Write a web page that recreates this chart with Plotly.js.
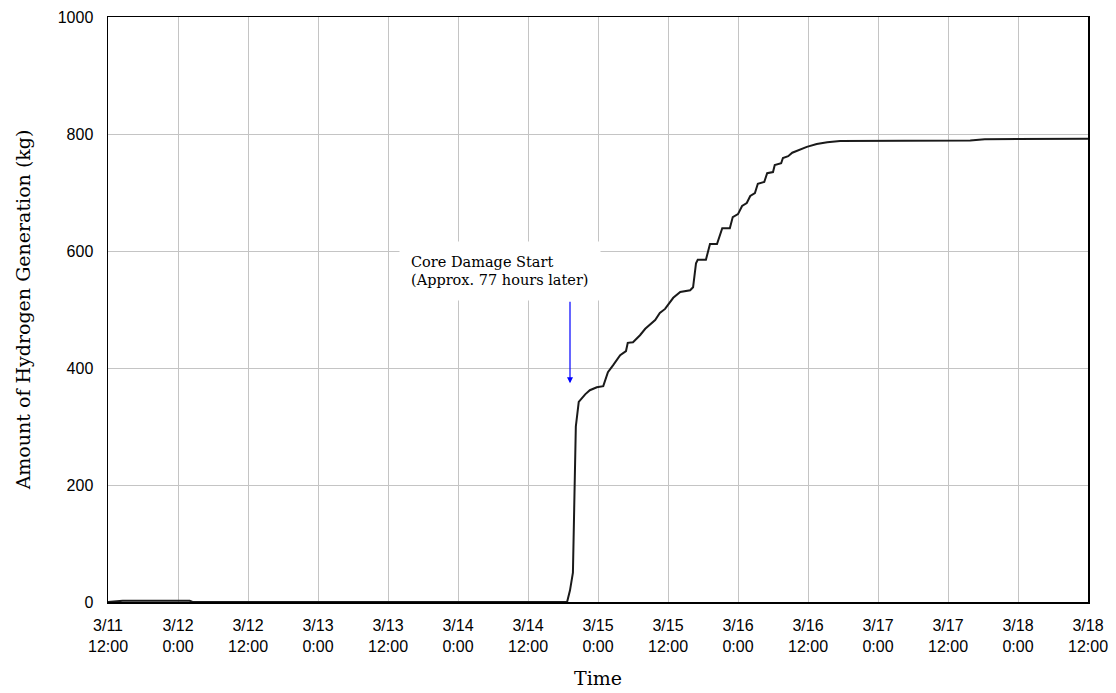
<!DOCTYPE html>
<html>
<head>
<meta charset="utf-8">
<script src="https://cdn.plot.ly/plotly-3.0.1.min.js"></script>
<style>html,body{margin:0;padding:0;background:#fff;}#chart{width:1116px;height:693px;}</style>
</head>
<body>
<div id="chart"></div>
<script>
// Hours elapsed since 3/11 12:00
const hours = [0, 2.5, 14, 14.5, 78.7, 79.2, 79.7, 79.9, 80.0, 80.2, 80.7, 81.8, 82.6, 83.8, 84.9,
  85.7, 86.6, 87.8, 88.8, 89.1, 90.0, 91.2, 92.1, 92.9, 93.8, 94.6, 95.5, 96.0, 96.9, 98.1,
  99.8, 100.3, 100.8, 101.1, 102.5, 103.2, 104.4, 105.3, 106.6, 107.1, 108.0, 108.7, 109.5,
  110.1, 110.9, 111.4, 112.5, 113.0, 114.0, 114.3, 115.4, 115.7, 116.6, 117.3, 118.6, 119.8,
  121.5, 123.3, 125.5, 128.9, 135.8, 147.8, 150.3, 168];
// Amount of hydrogen generated (kg)
const hydrogen = [0, 2, 2, 0, 0, 20, 50, 150, 243, 300, 342, 355, 362, 367, 369,
  393, 405, 422, 429, 443, 444, 456, 467, 474, 482, 494, 501, 508, 520, 530,
  533, 538, 579, 585, 585, 612, 612, 639, 639, 658, 663, 677, 682,
  694, 699, 715, 718, 733, 735, 747, 750, 759, 762, 768, 773, 778,
  783, 786, 788, 788, 789, 789, 791, 792];
const tickHours = [0, 12, 24, 36, 48, 60, 72, 84, 96, 108, 120, 132, 144, 156, 168];
const tickLabels = ["3/11<br>12:00", "3/12<br>0:00", "3/12<br>12:00", "3/13<br>0:00", "3/13<br>12:00",
  "3/14<br>0:00", "3/14<br>12:00", "3/15<br>0:00", "3/15<br>12:00", "3/16<br>0:00", "3/16<br>12:00",
  "3/17<br>0:00", "3/17<br>12:00", "3/18<br>0:00", "3/18<br>12:00"];
const yTicks = [0, 200, 400, 600, 800, 1000];
const noteText = "Core Damage Start<br>(Approx. 77 hours later)";
const arrowHour = 79.2, arrowValue = 374;
const noteHour = 67.2, noteValue = 566;

const serif = "'DejaVu Serif', 'Liberation Serif', serif";
const sans = "'Liberation Sans', Arial, sans-serif";

Plotly.newPlot('chart', [{
  x: hours, y: hydrogen, type: 'scatter', mode: 'lines',
  line: {color: '#1a1a1a', width: 2}, hoverinfo: 'x+y', showlegend: false
}], {
  width: 1116, height: 693,
  margin: {l: 108, r: 28, t: 17, b: 91},
  paper_bgcolor: '#fff', plot_bgcolor: '#fff',
  showlegend: false,
  xaxis: {
    range: [0, 168], tickvals: tickHours, ticktext: tickLabels,
    showgrid: true, gridcolor: '#c4c4c4', gridwidth: 1,
    showline: true, linecolor: '#000', linewidth: 1.5, mirror: true,
    ticks: 'outside', ticklen: 8, tickcolor: 'rgba(0,0,0,0)', zeroline: false,
    tickfont: {family: sans, size: 16, color: '#000'},
    title: {text: 'Time', font: {family: serif, size: 19, color: '#000'}, standoff: 18}
  },
  yaxis: {
    range: [0, 1000], tickvals: yTicks,
    showgrid: true, gridcolor: '#c4c4c4', gridwidth: 1,
    showline: true, linecolor: '#000', linewidth: 1.5, mirror: true,
    ticks: 'outside', ticklen: 10, tickcolor: 'rgba(0,0,0,0)', zeroline: false,
    tickfont: {family: sans, size: 16, color: '#000'},
    title: {text: 'Amount of Hydrogen Generation (kg)', font: {family: serif, size: 19, color: '#000'}, standoff: 22}
  },
  annotations: [
    {x: noteHour, y: noteValue, xref: 'x', yref: 'y', text: noteText, showarrow: false,
     align: 'left', bgcolor: '#fff', width: 178, height: 36, borderpad: 11,
     font: {family: serif, size: 14.5, color: '#000'}},
    {x: arrowHour, y: arrowValue, xref: 'x', yref: 'y', text: '', showarrow: true,
     ax: 0, ay: -83, arrowhead: 2, arrowsize: 1, arrowwidth: 1.2, arrowcolor: '#0000ff'}
  ]
}, {displayModeBar: false, staticPlot: true});
</script>
</body>
</html>
